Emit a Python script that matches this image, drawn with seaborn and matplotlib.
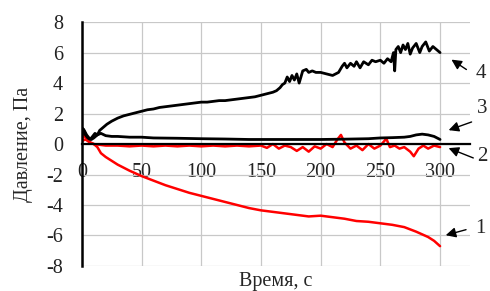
import matplotlib
matplotlib.use("Agg")
import matplotlib.pyplot as plt
import seaborn as sns

# curve 4 (black, upper)
t4 = [0, 1, 2, 3, 5, 7, 9, 11, 13, 15, 18, 21, 25, 30, 35, 40, 45, 50, 55, 60,
      65, 70, 75, 80, 85, 90, 95, 100, 105, 110, 115, 120, 125, 130, 135, 140, 145, 150, 155, 160,
      163, 166, 168, 170, 172, 174, 176, 178, 180, 182, 185, 188, 190, 193, 196, 200, 205, 210, 215, 218,
      220, 222, 225, 228, 230, 233, 236, 240, 243, 246, 250, 253, 256, 259, 261, 262, 263, 265, 267, 269,
      271, 273, 275, 277, 280, 283, 285, 288, 291, 294, 297, 300]
v4 = [0.6, 1.0, 0.8, 0.6, 0.4, 0.3, 0.5, 0.7, 0.6, 0.9, 1.1, 1.3, 1.5, 1.7, 1.85, 1.95, 2.05, 2.15, 2.25, 2.3,
      2.4, 2.45, 2.5, 2.55, 2.6, 2.65, 2.7, 2.75, 2.75, 2.8, 2.85, 2.85, 2.9, 2.95, 3.0, 3.05, 3.1, 3.2, 3.3, 3.4,
      3.5, 3.7, 3.9, 4.0, 4.4, 4.1, 4.5, 4.2, 4.6, 4.0, 4.8, 4.9, 4.7, 4.8, 4.7, 4.7, 4.6, 4.5, 4.7, 5.1,
      5.3, 5.0, 5.3, 5.1, 5.4, 5.0, 5.4, 5.2, 5.5, 5.4, 5.5, 5.3, 5.6, 5.4, 6.0, 4.8, 6.2, 6.4, 6.0, 6.5,
      6.2, 6.6, 5.9, 6.3, 6.6, 6.0, 6.4, 6.7, 6.1, 6.4, 6.2, 6.0]

# curve 3 (black, near 0.5)
t3 = [0, 1, 2, 4, 6, 8, 10, 13, 16, 20, 25, 30, 40, 50, 60, 80, 100, 120, 140, 160,
      180, 200, 220, 240, 250, 260, 270, 275, 280, 285, 290, 295, 300]
v3 = [0.5, 1.0, 0.9, 0.6, 0.4, 0.3, 0.4, 0.6, 0.7, 0.55, 0.5, 0.5, 0.45, 0.45, 0.4, 0.38, 0.35, 0.33, 0.3, 0.3,
      0.3, 0.3, 0.32, 0.35, 0.4, 0.42, 0.45, 0.5, 0.6, 0.65, 0.6, 0.5, 0.3]

# curve 2 (red, near zero)
t2 = [0, 2, 4, 6, 8, 10, 15, 20, 30, 40, 50, 60, 70, 80, 90, 100, 110, 120, 130, 140,
      150, 155, 160, 165, 170, 175, 180, 185, 190, 195, 200, 205, 210, 214, 217, 220, 225, 230, 235, 240,
      245, 250, 255, 258, 262, 266, 270, 275, 278, 282, 286, 290, 295, 300]
v2 = [0.3, 0.6, 0.3, 0.15, 0.05, 0.0, -0.05, -0.1, -0.1, -0.15, -0.1, -0.15, -0.1, -0.15, -0.1, -0.15, -0.1, -0.15, -0.1, -0.15,
      -0.1, -0.25, 0.0, -0.3, -0.1, -0.2, -0.45, -0.2, -0.5, -0.15, -0.3, 0.0, -0.2, 0.3, 0.6, 0.1, -0.3, -0.1, -0.4, 0.0,
      -0.3, -0.1, 0.35, -0.2, -0.1, -0.3, -0.2, -0.5, -0.8, -0.3, -0.1, -0.3, -0.1, -0.2]

# curve 1 (red, lower)
t1 = [0, 3, 6, 10, 13, 16, 20, 25, 30, 40, 50, 60, 70, 80, 90, 100, 110, 120, 130, 140,
      150, 160, 170, 180, 190, 200, 210, 220, 230, 240, 250, 260, 270, 280, 290, 295, 300]
v1 = [0.2, 0.3, 0.15, 0.0, -0.2, -0.6, -0.85, -1.1, -1.35, -1.75, -2.1, -2.4, -2.7, -2.95, -3.2, -3.4, -3.6, -3.8, -4.0, -4.2,
      -4.35, -4.45, -4.55, -4.65, -4.75, -4.7, -4.8, -4.9, -5.05, -5.1, -5.2, -5.3, -5.45, -5.75, -6.1, -6.35, -6.7]

# curve labels: (label, arrow head, arrow tail, text position)
labels = ["1", "2", "3", "4"]
heads = [(302.5, -6.03), (305, -0.2), (305, 0.85), (307.6, 5.64)]
tails = [(324, -5.57), (330, -0.98), (328.6, 1.51), (324, 4.79)]
texts = [(334, -5.57), (335, -0.79), (335, 2.3), (334, 4.66)]

sns.set_style("whitegrid", {"grid.color": "#c8c8c8"})
plt.rcParams["font.family"] = ["Liberation Serif", "DejaVu Serif"]
plt.rcParams["axes.unicode_minus"] = False

fig = plt.figure(figsize=(4.9, 2.91), dpi=100)
ax = fig.add_axes([0.167, 0.086, 0.792, 0.838])

sns.lineplot(x=t1, y=v1, color="red", lw=1.8, ax=ax)
sns.lineplot(x=t2, y=v2, color="red", lw=1.8, ax=ax)
sns.lineplot(x=t3, y=v3, color="black", lw=2.0, ax=ax)
sns.lineplot(x=t4, y=v4, color="black", lw=2.0, ax=ax)

ax.set_xlim(0, 325)
ax.set_ylim(-8, 8)
ax.set_xticks(range(0, 301, 50))
ax.set_yticks(range(-8, 9, 2))
ax.grid(True, color="#c8c8c8", lw=0.9)

for s in ["top", "right"]:
    ax.spines[s].set_visible(False)
ax.spines["left"].set_color("black")
ax.spines["left"].set_linewidth(1.8)
ax.spines["bottom"].set_position(("data", 0))
ax.spines["bottom"].set_color("black")
ax.spines["bottom"].set_linewidth(1.6)

ax.tick_params(axis="x", direction="out", length=4, width=1, pad=10, labelsize=14.5, colors="black")
ax.tick_params(axis="y", direction="out", length=5.5, width=1.5, pad=8, labelsize=14.5, colors="black")
ax.tick_params(axis="both", labelcolor="#222222")

ax.set_xlabel("Время, с", fontsize=14.5)
ax.xaxis.set_label_coords(0.5, -0.025)
ax.set_ylabel("Давление, Па", fontsize=14.5)
ax.yaxis.set_label_coords(-0.126, 0.5)

for lab, h, tl, tx in zip(labels, heads, tails, texts):
    ax.annotate("", xy=h, xytext=tl, annotation_clip=False,
                arrowprops=dict(arrowstyle="-|>", color="black", lw=1.0, mutation_scale=15))
    ax.text(tx[0], tx[1], lab, fontsize=15, ha="center", va="center", clip_on=False)

plt.savefig("out.png", dpi=100)
